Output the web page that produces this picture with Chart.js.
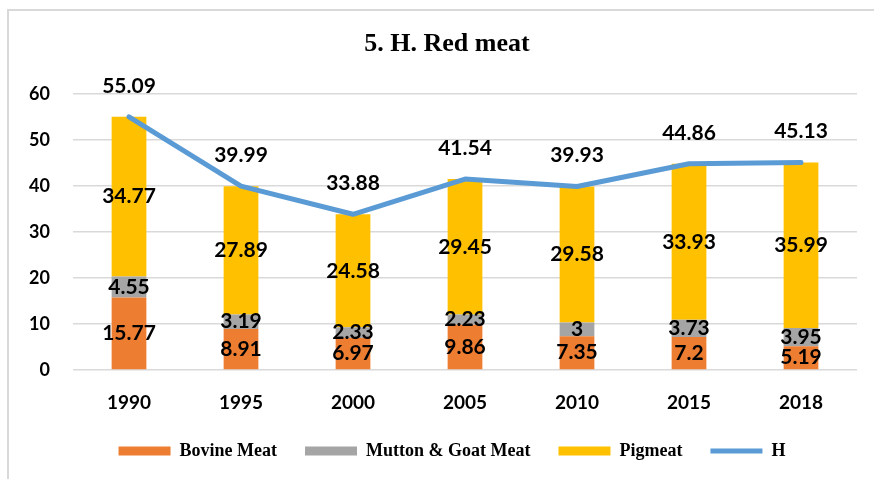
<!DOCTYPE html>
<html>
<head>
<meta charset="utf-8">
<script src="https://cdn.jsdelivr.net/npm/chart.js@4/dist/chart.umd.min.js"></script>
<style>
  html, body { margin: 0; padding: 0; background: #fff; overflow: hidden; }
  #wrap {
    position: absolute; left: 7px; top: 9px;
    width: 880px; height: 468px;
    border-left: 2px solid #d9d9d9; border-top: 2px solid #d9d9d9;
  }
</style>
</head>
<body>
<div id="wrap"><canvas id="chart"></canvas></div>
<script>
// ── Data ─────────────────────────────────────────────
const years   = ['1990', '1995', '2000', '2005', '2010', '2015', '2018'];
const bovine  = [15.77, 8.91, 6.97, 9.86, 7.35, 7.2, 5.19];
const mutton  = [4.55, 3.19, 2.33, 2.23, 3, 3.73, 3.95];
const pigmeat = [34.77, 27.89, 24.58, 29.45, 29.58, 33.93, 35.99];
const total   = [55.09, 39.99, 33.88, 41.54, 39.93, 44.86, 45.13];
const yTicks  = [0, 10, 20, 30, 40, 50, 60];

// ── Value labels ─────────────────────────────────────
const valueLabels = {
  id: 'valueLabels',
  afterDatasetsDraw(chart) {
    const ctx = chart.ctx;
    ctx.save();
    ctx.font = 'bold 21px Lato';
    ctx.fillStyle = '#000';
    ctx.textAlign = 'center';
    ctx.textBaseline = 'middle';
    chart.data.datasets.forEach((ds, di) => {
      const meta = chart.getDatasetMeta(di);
      meta.data.forEach((el, i) => {
        const v = ds.data[i];
        if (ds.type === 'line') {
          ctx.fillText(String(v), el.x, el.y - 31);
        } else {
          ctx.fillText(String(v), el.x, (el.y + el.base) / 2);
        }
      });
    });
    ctx.restore();
  }
};

// nudge title / legend to where the original sits
const nudge = {
  id: 'nudge',
  afterLayout(chart) {
    chart.legend.left += 9;  chart.legend.right += 9;
    chart.titleBlock.left += 4; chart.titleBlock.right += 4;
  }
};

// ── Chart ────────────────────────────────────────────
new Chart(document.getElementById('chart'), {
  data: {
    labels: years,
    datasets: [
      { type: 'bar', label: 'Bovine Meat', data: bovine, backgroundColor: '#ED7D31', stack: 'meat', order: 1, pointStyle: 'rect' },
      { type: 'bar', label: 'Mutton & Goat Meat', data: mutton, backgroundColor: '#A5A5A5', stack: 'meat', order: 1, pointStyle: 'rect' },
      { type: 'bar', label: 'Pigmeat', data: pigmeat, backgroundColor: '#FFC000', stack: 'meat', order: 1, pointStyle: 'rect' },
      {
        type: 'line', label: 'H', data: total, stack: 'h', order: 0,
        borderColor: '#5B9BD5', backgroundColor: '#5B9BD5',
        borderWidth: 5, borderCapStyle: 'round', borderJoinStyle: 'round',
        pointRadius: 0, pointStyle: 'line', tension: 0
      }
    ]
  },
  options: {
    responsive: true, maintainAspectRatio: false, animation: false,
    categoryPercentage: 1, barPercentage: 0.31,
    layout: { padding: { left: 20, right: 32, top: 0, bottom: 9 } },
    plugins: {
      title: {
        display: true, text: '5. H. Red meat', color: '#000',
        font: { family: 'Liberation Serif', size: 26, weight: 'bold' },
        padding: { top: 18, bottom: 34 }
      },
      legend: {
        position: 'bottom',
        labels: {
          color: '#000', usePointStyle: true, pointStyleWidth: 52, boxHeight: 9, padding: 28,
          font: { family: 'Liberation Serif', size: 18, weight: 'bold' },
          sort: (a, b) => a.datasetIndex - b.datasetIndex
        }
      },
      tooltip: { enabled: false }
    },
    scales: {
      x: {
        stacked: true,
        afterFit: s => { s.height = 44; },
        grid: { display: false, drawTicks: false },
        border: { display: false },
        ticks: { color: '#000', padding: 21, font: { family: 'Lato', size: 19, weight: 'bold' } }
      },
      y: {
        stacked: true, min: 0, max: 60,
        afterBuildTicks: s => { s.ticks = yTicks.map(v => ({ value: v })); },
        afterFit: s => { s.width = 44; },
        grid: { color: '#d9d9d9', lineWidth: 1.5, drawTicks: false },
        border: { display: false },
        ticks: { color: '#000', padding: 23, font: { family: 'Lato', size: 18, weight: 'bold' } }
      }
    }
  },
  plugins: [valueLabels, nudge]
});
</script>
</body>
</html>
